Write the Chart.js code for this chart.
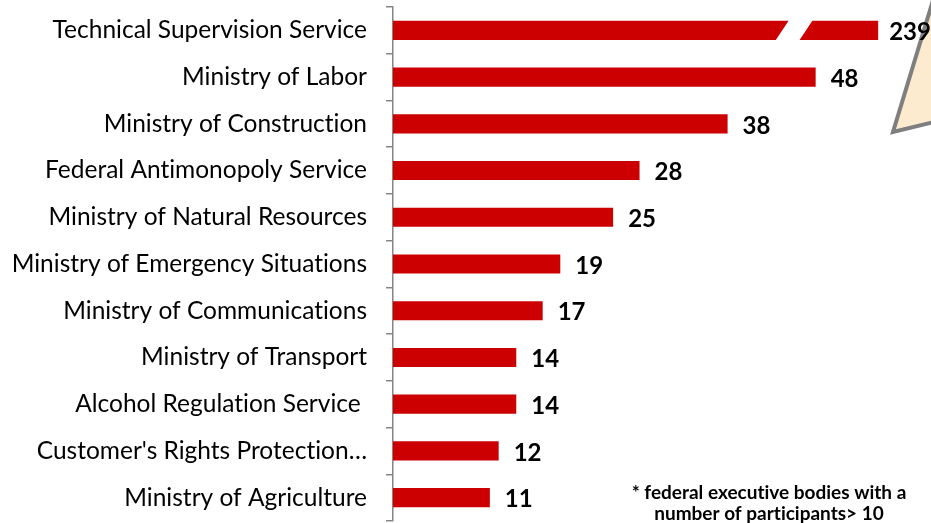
<!DOCTYPE html>
<html><head><meta charset="utf-8">
<script src="https://cdn.jsdelivr.net/npm/chart.js@4.4.1/dist/chart.umd.min.js"></script>
<style>html,body{margin:0;padding:0;background:#fff;} #wrap{width:931px;height:523px;position:relative;}</style>
</head><body><div id="wrap"><canvas id="c"></canvas></div>
<script>
const categories = ["Technical Supervision Service","Ministry of Labor","Ministry of Construction","Federal Antimonopoly Service","Ministry of Natural Resources","Ministry of Emergency Situations","Ministry of Communications","Ministry of Transport","Alcohol Regulation Service ","Customer's Rights Protection\u2026","Ministry of Agriculture"];
const participants = [239,48,38,28,25,19,17,14,14,12,11];
const axisMax = 61.1;
const breakShownAt = 55.1;
const breakGap = {start: 43.4, width: 2.7, slant: 1.6};
const footnote = ["* federal executive bodies with a", "number of participants> 10"];

const displayed = participants.map(v => v > axisMax ? breakShownAt : v);

const overlay = {
  id: 'overlay',
  beforeDraw(chart) {
    const ctx = chart.ctx;
    try { ctx.textRendering = 'optimizeSpeed'; } catch (e) {}
  },
  beforeDatasetsDraw(chart) {
    const ctx = chart.ctx;
    ctx.save();
    ctx.beginPath();
    ctx.moveTo(934, -3); ctx.lineTo(893, 132); ctx.lineTo(934, 122); ctx.closePath();
    ctx.fillStyle = '#FDEBD0'; ctx.fill();
    ctx.strokeStyle = '#7F7F7F'; ctx.lineWidth = 4; ctx.lineJoin = 'miter'; ctx.stroke();
    ctx.restore();
  },
  afterDatasetsDraw(chart) {
    const ctx = chart.ctx, xs = chart.scales.x, meta = chart.getDatasetMeta(0);
    ctx.save();
    meta.data.forEach((bar, i) => {
      if (participants[i] > axisMax) {
        const h = bar.height, top = bar.y - h / 2 - 1, bot = bar.y + h / 2 + 1;
        const x0 = xs.getPixelForValue(breakGap.start), x1 = xs.getPixelForValue(breakGap.start + breakGap.width);
        const sl = xs.getPixelForValue(breakGap.slant) - xs.getPixelForValue(0);
        ctx.fillStyle = '#fff';
        ctx.beginPath();
        ctx.moveTo(x0, bot); ctx.lineTo(x0 + sl, top); ctx.lineTo(x1 + sl, top); ctx.lineTo(x1, bot);
        ctx.closePath(); ctx.fill();
      }
      ctx.font = 'bold 24px Lato';
      ctx.fillStyle = '#000'; ctx.textAlign = 'left'; ctx.textBaseline = 'middle';
      ctx.fillText(String(participants[i]), bar.x + (participants[i] > axisMax ? 11 : 15), bar.y + 2);
    });
    ctx.font = 'bold 19px Lato';
    ctx.textAlign = 'center'; ctx.textBaseline = 'alphabetic';
    ctx.fillText(footnote[0], 769, 499);
    ctx.fillText(footnote[1], 769, 520);
    ctx.restore();
  }
};

new Chart(document.getElementById('c'), {
  type: 'bar',
  data: {
    labels: categories,
    datasets: [{
      data: displayed,
      backgroundColor: '#CC0000',
      borderWidth: 0,
      barPercentage: 0.41,
      categoryPercentage: 1.0
    }]
  },
  options: {
    indexAxis: 'y',
    responsive: true,
    maintainAspectRatio: false,
    animation: false,
    layout: { padding: { top: 7, bottom: 2, left: 0, right: 0 } },
    plugins: { legend: { display: false }, tooltip: { enabled: false } },
    scales: {
      x: { display: false, min: 0, max: axisMax },
      y: {
        afterFit(scale) { scale.width = 393; scale.paddingTop = 0; scale.paddingBottom = 0; },
        border: { display: true, color: '#868686', width: 1.5 },
        grid: { offset: true, drawOnChartArea: false, drawTicks: true, tickLength: 7, color: '#868686', lineWidth: 1.5 },
        ticks: { color: '#000', padding: 19, font: { family: 'Lato', size: 24.5 } }
      }
    }
  },
  plugins: [overlay]
});
</script>
</body></html>
